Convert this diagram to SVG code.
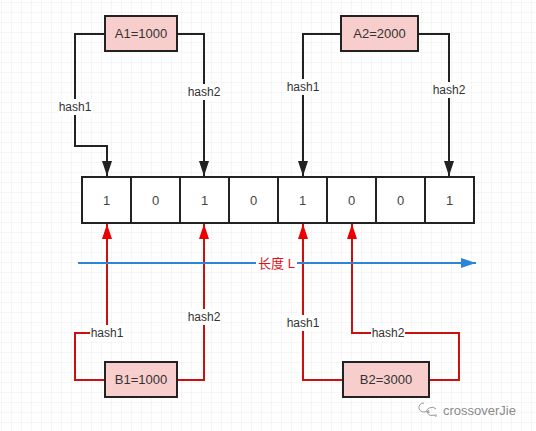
<svg xmlns="http://www.w3.org/2000/svg" width="536" height="431" viewBox="0 0 536 431">
<defs>
<pattern id="grid" x="2" y="3" width="10" height="10" patternUnits="userSpaceOnUse">
<path d="M10,0 V10 M0,10 H10" fill="none" stroke="#ececec" stroke-width="1"/>
</pattern>
<marker id="ab" markerUnits="userSpaceOnUse" markerWidth="16" markerHeight="12" viewBox="0 0 16 12" refX="15" refY="6" orient="auto">
<path d="M0,1 L15,6 L0,11 Z" fill="#222"/>
</marker>
<marker id="ar" markerUnits="userSpaceOnUse" markerWidth="16" markerHeight="12" viewBox="0 0 16 12" refX="15" refY="6" orient="auto">
<path d="M0,1 L15,6 L0,11 Z" fill="#ee0000"/>
</marker>
<marker id="abl" markerUnits="userSpaceOnUse" markerWidth="16" markerHeight="12" viewBox="0 0 16 12" refX="15" refY="6" orient="auto">
<path d="M0,1 L15,6 L0,11 Z" fill="#2c85d8"/>
</marker>
</defs>
<style>
.node rect{fill:#f8cecc;stroke:#222;stroke-width:2}
.node text{font-family:"Liberation Sans",Arial,sans-serif;font-size:13px;fill:#333;text-anchor:middle;dominant-baseline:central}
.cell rect{fill:#fff;stroke:#222;stroke-width:2}
.cell text{font-family:"Liberation Sans",Arial,sans-serif;font-size:13px;fill:#444;text-anchor:middle;dominant-baseline:central}
.blk{fill:none;stroke:#222;stroke-width:2;marker-end:url(#ab)}
.red{fill:none;stroke:#cc1010;stroke-width:2;marker-end:url(#ar)}
.lbg{fill:#fff}
.lbl{font-family:"Liberation Sans",Arial,sans-serif;font-size:12px;fill:#333;text-anchor:middle;dominant-baseline:central}
</style>
<rect width="536" height="431" fill="#fff"/>
<rect width="536" height="431" fill="url(#grid)"/>

<g id="array">
<g class="cell" id="cell0"><rect x="82" y="177" width="49" height="46"/><text x="106.5" y="200">1</text></g>
<g class="cell" id="cell1"><rect x="131" y="177" width="49" height="46"/><text x="155.5" y="200">0</text></g>
<g class="cell" id="cell2"><rect x="180" y="177" width="49" height="46"/><text x="204.5" y="200">1</text></g>
<g class="cell" id="cell3"><rect x="229" y="177" width="49" height="46"/><text x="253.5" y="200">0</text></g>
<g class="cell" id="cell4"><rect x="278" y="177" width="49" height="46"/><text x="302.5" y="200">1</text></g>
<g class="cell" id="cell5"><rect x="327" y="177" width="49" height="46"/><text x="351.5" y="200">0</text></g>
<g class="cell" id="cell6"><rect x="376" y="177" width="49" height="46"/><text x="400.5" y="200">0</text></g>
<g class="cell" id="cell7"><rect x="425" y="177" width="49" height="46"/><text x="449.5" y="200">1</text></g>
</g>

<g id="connectors">
<path class="blk" d="M105,34 H75 V146 H107 V176"/>
<path class="blk" d="M177,34 H204 V176"/>
<path class="blk" d="M341,34 H303 V176"/>
<path class="blk" d="M418,34 H449 V176"/>
<path class="red" d="M105,380 H75 V333 H107 V224"/>
<path class="red" d="M177,380 H204 V224"/>
<path class="red" d="M343,380 H303 V224"/>
<path class="red" d="M429,380 H459 V333 H352 V224"/>
<path d="M78,263 H476" fill="none" stroke="#2c85d8" stroke-width="2" marker-end="url(#abl)"/>

<rect class="lbg" x="58" y="99" width="34" height="16"/><text class="lbl" x="75" y="107">hash1</text>
<rect class="lbg" x="187" y="84" width="34" height="16"/><text class="lbl" x="204" y="92">hash2</text>
<rect class="lbg" x="286" y="79" width="34" height="16"/><text class="lbl" x="303" y="87">hash1</text>
<rect class="lbg" x="432" y="82" width="34" height="16"/><text class="lbl" x="449" y="90">hash2</text>
<rect class="lbg" x="90" y="325" width="34" height="16"/><text class="lbl" x="107" y="333">hash1</text>
<rect class="lbg" x="187" y="309" width="34" height="16"/><text class="lbl" x="204" y="317">hash2</text>
<rect class="lbg" x="286" y="315" width="34" height="16"/><text class="lbl" x="303" y="323">hash1</text>
<rect class="lbg" x="371" y="325" width="34" height="16"/><text class="lbl" x="388" y="333">hash2</text>
<rect class="lbg" x="256" y="255" width="41" height="16"/><text x="276.5" y="263" font-family="Liberation Sans,Noto Sans CJK SC,sans-serif" font-size="13" fill="#e0101a" text-anchor="middle" dominant-baseline="central">长度 L</text>
</g>

<g class="node" id="A1"><rect x="105" y="16" width="72" height="35"/><text x="141" y="33.5">A1=1000</text></g>
<g class="node" id="A2"><rect x="341" y="16" width="77" height="35"/><text x="379.5" y="33.5">A2=2000</text></g>
<g class="node" id="B1"><rect x="105" y="362" width="72" height="35"/><text x="141" y="379.5">B1=1000</text></g>
<g class="node" id="B2"><rect x="343" y="362" width="86" height="35"/><text x="386" y="379.5">B2=3000</text></g>

<g id="watermark" fill="none" stroke="#999" stroke-width="1">
<path d="M424,403 a5,4.5 0 1 0 3,8 l2,2 l-0.5,-3"/>
<path d="M436,409 a5,4 0 1 0 -2,6 l2,1.5 l0,-2.5"/>
<text x="443" y="410" stroke="none" fill="#8a8a8a" font-family="Liberation Sans,Arial,sans-serif" font-size="13" dominant-baseline="central">crossoverJie</text>
</g>
</svg>
